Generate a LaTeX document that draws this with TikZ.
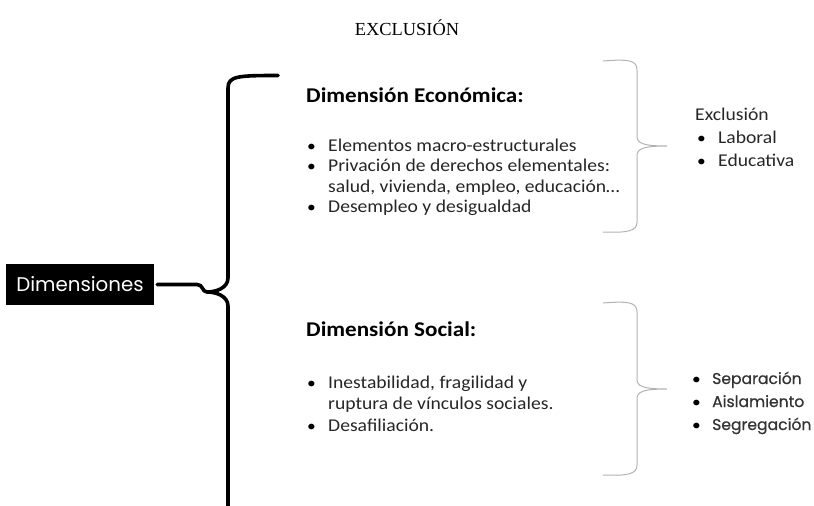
\documentclass[tikz,border=0pt]{standalone}
\usepackage{fontspec}
\setmainfont{Carlito}[FakeStretch=1.09]
\newfontfamily\headfont{Carlito}[FakeStretch=1.1]
\newfontfamily\titlefont{Liberation Serif}
\newfontfamily\geo{Poppins}
\newfontfamily\geob{Poppins}[FakeBold=0.6]
\begin{document}
\begin{tikzpicture}[x=1pt,y=-1pt,
  txt/.style={anchor=base west,inner sep=0pt,font=\fontsize{18}{21}\selectfont,text=black!85},
  head/.style={anchor=base west,inner sep=0pt,font=\headfont\fontsize{21}{24}\selectfont\bfseries},
  geotxt/.style={anchor=base west,inner sep=0pt,font=\geob\fontsize{15.6}{18}\selectfont,text=black!80},
  bigbrace/.style={line width=3.6pt,black,line cap=round,line join=round},
  smallbrace/.style={line width=1pt,black!30},
  dot/.style={anchor=base west,inner sep=0pt,font=\fontsize{16}{21}\selectfont}
]
\useasboundingbox (0,0) rectangle (814,506);
\node[anchor=base,inner sep=0pt,font=\titlefont\fontsize{18.4}{21}\selectfont] (title) at (407,35) {EXCLUSIÓN};

% Dimensiones box
\node[fill=black,text=white,minimum width=148pt,minimum height=41pt,inner sep=0pt,
  font=\geo\fontsize{19.8}{22}\selectfont] (dim) at (80,284.5) {Dimensiones};

% big brace
\coordinate (tip) at (207,292);
\draw[bigbrace] (dim.east) ++(3,0) -- ++(40,0) .. controls +(6,0) and (202,292) .. (tip);
\draw[bigbrace] (278,75.5) .. controls (238,75.5) and (228,76) .. (228,88) -- (228,278)
  .. controls (228,288) and (216,292) .. (tip)
  .. controls (216,292) and (228,296) .. (228,306) -- (228,510);

% economic dimension
\node[head] (eh) at (306,102.5) {Dimensión Económica:};
\node[dot] (eb1) at (307,151) {•};
\node[txt] (e1) at (328,151) {Elementos macro-estructurales};
\node[dot] (eb2) at (307,171.5) {•};
\node[txt] (e2) at (328,171.5) {Privación de derechos elementales:};
\node[txt] (e2b) at (328,192) {salud, vivienda, empleo, educación…};
\node[dot] (eb3) at (307,212.5) {•};
\node[txt] (e3) at (328,212.5) {Desempleo y desigualdad};

% social dimension
\node[head] (sh) at (306,336) {Dimensión Social:};
\node[dot] (sb1) at (307,388) {•};
\node[txt] (s1) at (328,388) {Inestabilidad, fragilidad y};
\node[txt] (s1b) at (328,409.5) {ruptura de vínculos sociales.};
\node[dot] (sb2) at (307,431) {•};
\node[txt] (s2) at (328,431) {Desafiliación.};

% small braces
\draw[smallbrace] (603,61) .. controls (628,59) and (637,60) .. (637,70) -- (637,136)
  .. controls (637,143) and (642,146) .. (667,146)
  .. controls (642,146) and (637,149) .. (637,156) -- (637,222)
  .. controls (637,231) and (628,233) .. (603,232);
\draw[smallbrace] (603,303) .. controls (628,301) and (637,302) .. (637,312) -- (637,379)
  .. controls (637,386) and (642,389) .. (667,389)
  .. controls (642,389) and (637,392) .. (637,399) -- (637,465)
  .. controls (637,474) and (628,476) .. (603,475);

% right top
\node[txt] (ex) at (695,120) {Exclusión};
\node[dot] (rb1) at (697,143) {•};
\node[txt] (r1) at (718,143) {Laboral};
\node[dot] (rb2) at (697,166) {•};
\node[txt] (r2) at (718,166) {Educativa};

% right bottom
\node[dot] (gb1) at (692,384) {•};
\node[geotxt] (g1) at (712,384) {Separación};
\node[dot] (gb2) at (692,407) {•};
\node[geotxt] (g2) at (712,407) {Aislamiento};
\node[dot] (gb3) at (692,430) {•};
\node[geotxt] (g3) at (712,430) {Segregación};
\end{tikzpicture}
\end{document}
